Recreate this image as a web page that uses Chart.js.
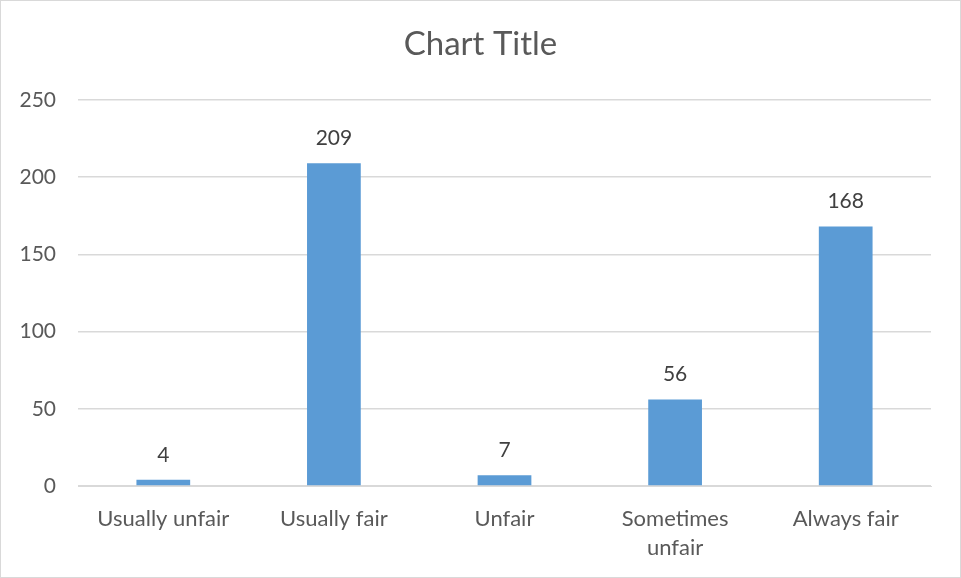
<!DOCTYPE html>
<html>
<head>
<meta charset="utf-8">
<script src="https://cdn.jsdelivr.net/npm/chart.js@4.4.0/dist/chart.umd.min.js"></script>
<style>
    body { margin: 0; background: #fff; }
    .wrap { position: relative; width: 961px; height: 578px; box-sizing: border-box; border: 1px solid #d9d9d9; }
    canvas { display: block; }
</style>
</head>
<body>
<div class="wrap"><canvas id="barChart" width="959" height="576"></canvas></div>
<script>
const categories = ['Usually unfair', 'Usually fair', 'Unfair', ['Sometimes', 'unfair'], 'Always fair'];
const counts = [4, 209, 7, 56, 168];
const yTicks = [0, 50, 100, 150, 200, 250];

const fontFamily = 'Lato, "Open Sans", sans-serif';

// draws the number above each bar
const valueLabels = {
    id: 'valueLabels',
    afterDatasetsDraw(chart) {
        const ctx = chart.ctx;
        const meta = chart.getDatasetMeta(0);
        ctx.save();
        ctx.font = '21px ' + fontFamily;
        ctx.fillStyle = '#404040';
        ctx.textAlign = 'center';
        ctx.textBaseline = 'middle';
        meta.data.forEach(function (bar, i) {
            ctx.fillText(String(counts[i]), bar.x, bar.y - 25);
        });
        ctx.restore();
    }
};

const ctx = document.getElementById('barChart').getContext('2d');
new Chart(ctx, {
    type: 'bar',
    data: {
        labels: categories,
        datasets: [{
            data: counts,
            backgroundColor: '#5b9bd5',
            categoryPercentage: 1,
            barPercentage: 0.315
        }]
    },
    options: {
        responsive: false,
        animation: false,
        layout: { padding: 0 },
        plugins: {
            legend: { display: false },
            tooltip: { enabled: false },
            title: {
                display: true,
                text: 'Chart Title',
                color: '#595959',
                font: { family: fontFamily, size: 33, weight: 'normal' },
                padding: { top: 24, bottom: 35.4 }
            }
        },
        scales: {
            x: {
                grid: { display: false, drawTicks: false },
                border: { color: '#d9d9d9', width: 1 },
                ticks: {
                    color: '#595959',
                    font: { family: fontFamily, size: 22, lineHeight: 1.32 },
                    padding: 18,
                    maxRotation: 0,
                    autoSkip: false
                },
                afterFit(axis) { axis.height = 91; }
            },
            y: {
                min: 0,
                max: 250,
                afterBuildTicks(axis) { axis.ticks = yTicks.map(v => ({ value: v })); },
                grid: { color: '#d9d9d9', lineWidth: 1.5, drawTicks: false },
                border: { display: false },
                ticks: {
                    color: '#595959',
                    font: { family: fontFamily, size: 21 },
                    padding: 22
                },
                afterFit(axis) { axis.width = 77; }
            },
            // empty right margin so the title stays centred on the whole chart
            spacer: {
                type: 'linear',
                position: 'right',
                grid: { display: false, drawTicks: false },
                border: { display: false },
                ticks: { display: false },
                afterFit(axis) { axis.width = 29; }
            }
        }
    },
    plugins: [valueLabels]
});
</script>
</body>
</html>
